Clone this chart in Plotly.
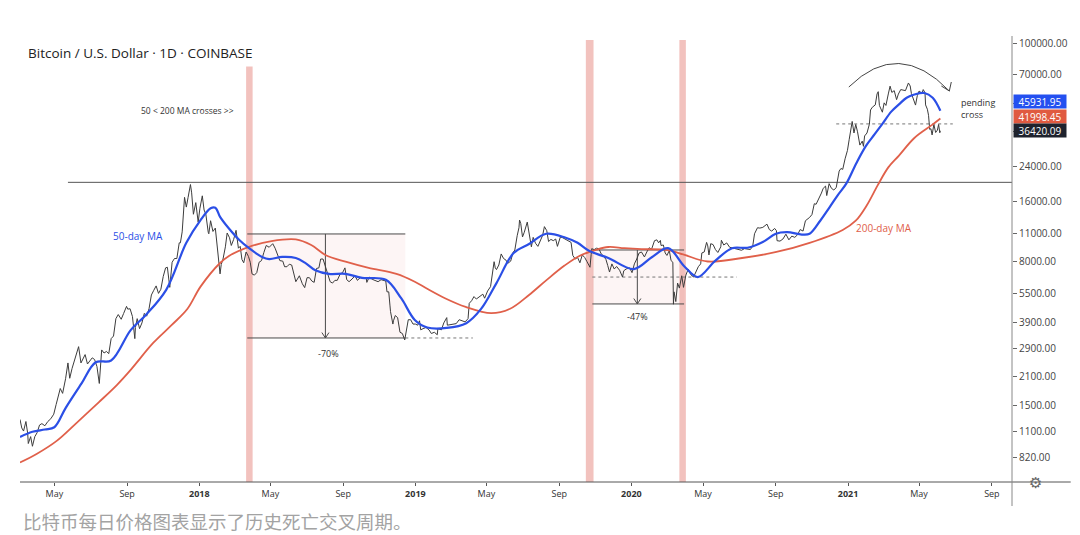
import plotly.graph_objects as go
import math
from datetime import date, timedelta

# ---------------- data ----------------
price_dates = [
 "2017-03-04","2017-03-07","2017-03-10","2017-03-14","2017-03-17","2017-03-18","2017-03-22","2017-03-25","2017-03-29",
 "2017-04-02","2017-04-06","2017-04-10","2017-04-15","2017-04-20","2017-04-25","2017-04-30","2017-05-04","2017-05-08",
 "2017-05-11","2017-05-15","2017-05-20","2017-05-24","2017-05-25","2017-05-27","2017-05-31","2017-06-04","2017-06-08",
 "2017-06-11","2017-06-15","2017-06-18","2017-06-22","2017-06-26","2017-06-30","2017-07-04","2017-07-08","2017-07-12",
 "2017-07-16","2017-07-20","2017-07-24","2017-07-28","2017-08-01","2017-08-05","2017-08-09","2017-08-13","2017-08-17",
 "2017-08-22","2017-08-26","2017-08-31","2017-09-02","2017-09-06","2017-09-10","2017-09-14","2017-09-15","2017-09-18",
 "2017-09-22","2017-09-26","2017-09-30","2017-10-04","2017-10-08","2017-10-12","2017-10-16","2017-10-20","2017-10-24",
 "2017-10-28","2017-11-01","2017-11-05","2017-11-08","2017-11-12","2017-11-16","2017-11-20","2017-11-24","2017-11-28",
 "2017-11-30","2017-12-03","2017-12-07","2017-12-10","2017-12-13","2017-12-17","2017-12-19","2017-12-22","2017-12-26",
 "2017-12-30",
 "2018-01-02","2018-01-06","2018-01-09","2018-01-12","2018-01-16","2018-01-17","2018-01-20","2018-01-24","2018-01-28",
 "2018-02-01","2018-02-05","2018-02-07","2018-02-10","2018-02-14","2018-02-17","2018-02-21","2018-02-24","2018-02-28",
 "2018-03-04","2018-03-08","2018-03-11","2018-03-14","2018-03-17","2018-03-21","2018-03-25","2018-03-28","2018-03-31",
 "2018-04-04","2018-04-08","2018-04-12","2018-04-16","2018-04-20","2018-04-24","2018-04-29","2018-05-05","2018-05-09",
 "2018-05-13","2018-05-17","2018-05-22","2018-05-25","2018-05-29","2018-06-02","2018-06-06","2018-06-10","2018-06-13",
 "2018-06-19","2018-06-24","2018-06-28","2018-07-02","2018-07-06","2018-07-10","2018-07-14","2018-07-18","2018-07-22",
 "2018-07-25","2018-07-29","2018-08-02","2018-08-06","2018-08-10","2018-08-14","2018-08-18","2018-08-22","2018-08-27",
 "2018-08-31","2018-09-04","2018-09-07","2018-09-11","2018-09-16","2018-09-21","2018-09-25","2018-09-30","2018-10-05",
 "2018-10-10","2018-10-11","2018-10-15","2018-10-20","2018-10-25","2018-10-30","2018-11-04","2018-11-08","2018-11-12",
 "2018-11-14","2018-11-17","2018-11-19","2018-11-20","2018-11-24","2018-11-25","2018-11-28","2018-12-02","2018-12-06",
 "2018-12-10","2018-12-14","2018-12-17","2018-12-20","2018-12-24","2018-12-28",
 "2019-01-01","2019-01-05","2019-01-08","2019-01-10","2019-01-14","2019-01-19","2019-01-24","2019-01-28","2019-02-02",
 "2019-02-07","2019-02-08","2019-02-14","2019-02-18","2019-02-23","2019-02-24","2019-03-01","2019-03-06","2019-03-11",
 "2019-03-16","2019-03-21","2019-03-26","2019-03-31","2019-04-02","2019-04-06","2019-04-10","2019-04-14","2019-04-20",
 "2019-04-25","2019-04-28","2019-05-03","2019-05-08","2019-05-11","2019-05-14","2019-05-16","2019-05-18","2019-05-22",
 "2019-05-26","2019-05-30","2019-06-03","2019-06-06","2019-06-11","2019-06-15","2019-06-18","2019-06-22","2019-06-25",
 "2019-06-26","2019-06-28","2019-07-01","2019-07-04","2019-07-09","2019-07-11","2019-07-14","2019-07-16","2019-07-19",
 "2019-07-23","2019-07-27","2019-07-31","2019-08-04","2019-08-07","2019-08-11","2019-08-14","2019-08-18","2019-08-22",
 "2019-08-26","2019-08-29","2019-09-03","2019-09-07","2019-09-12","2019-09-17","2019-09-21","2019-09-24","2019-09-28",
 "2019-10-02","2019-10-06","2019-10-10","2019-10-14","2019-10-18","2019-10-23","2019-10-25","2019-10-26","2019-10-30",
 "2019-11-03","2019-11-07","2019-11-11","2019-11-15","2019-11-19","2019-11-22","2019-11-25","2019-11-29","2019-12-03",
 "2019-12-07","2019-12-12","2019-12-17","2019-12-19","2019-12-23","2019-12-29",
 "2020-01-02","2020-01-06","2020-01-10","2020-01-14","2020-01-18","2020-01-23","2020-01-27","2020-01-31","2020-02-04",
 "2020-02-09","2020-02-13","2020-02-16","2020-02-19","2020-02-20","2020-02-24","2020-02-27","2020-03-01","2020-03-05",
 "2020-03-08","2020-03-11","2020-03-12","2020-03-13","2020-03-16","2020-03-19","2020-03-22","2020-03-26","2020-03-29",
 "2020-04-02","2020-04-06","2020-04-10","2020-04-15","2020-04-19","2020-04-23","2020-04-27","2020-04-29","2020-05-03",
 "2020-05-07","2020-05-09","2020-05-11","2020-05-14","2020-05-18","2020-05-22","2020-05-26","2020-05-31","2020-06-01",
 "2020-06-05","2020-06-10","2020-06-15","2020-06-20","2020-06-25","2020-06-30","2020-07-05","2020-07-10","2020-07-15",
 "2020-07-20","2020-07-24","2020-07-27","2020-08-01","2020-08-05","2020-08-10","2020-08-17","2020-08-21","2020-08-25",
 "2020-08-30","2020-09-02","2020-09-03","2020-09-08","2020-09-13","2020-09-18","2020-09-23","2020-09-28","2020-10-03",
 "2020-10-08","2020-10-12","2020-10-17","2020-10-21","2020-10-25","2020-10-28","2020-11-01","2020-11-05","2020-11-08",
 "2020-11-12","2020-11-17","2020-11-20","2020-11-24","2020-11-26","2020-11-30","2020-12-04","2020-12-08","2020-12-12",
 "2020-12-16","2020-12-17","2020-12-20","2020-12-23","2020-12-27","2020-12-31",
 "2021-01-03","2021-01-06","2021-01-08","2021-01-11","2021-01-14","2021-01-17","2021-01-21","2021-01-25","2021-01-27",
 "2021-01-29","2021-02-02","2021-02-06","2021-02-08","2021-02-11","2021-02-16","2021-02-19","2021-02-21","2021-02-23",
 "2021-02-26","2021-02-28","2021-03-03","2021-03-06","2021-03-10","2021-03-13","2021-03-16","2021-03-20","2021-03-24",
 "2021-03-27","2021-03-31","2021-04-04","2021-04-08","2021-04-13","2021-04-16","2021-04-18","2021-04-22","2021-04-25",
 "2021-04-28","2021-05-01","2021-05-03","2021-05-06","2021-05-08","2021-05-11","2021-05-12","2021-05-15","2021-05-17",
 "2021-05-19","2021-05-21","2021-05-23","2021-05-26","2021-05-29","2021-06-01","2021-06-03","2021-06-05","2021-06-06",
]
price_close = [
 1270,1150,1110,1240,1080,960,1040,930,1040,
 1090,1190,1210,1180,1240,1280,1350,1510,1700,
 1820,1720,2040,2450,2320,2050,2300,2520,2800,
 2960,2450,2560,2700,2420,2500,2600,2550,2350,
 1930,2850,2750,2800,2730,3250,3350,4100,4300,
 4070,4350,4730,4580,4600,4200,3250,3700,4100,
 3650,3900,4360,4220,4600,5400,5700,6000,5500,
 5770,6700,7400,7450,5900,7900,8250,8250,9900,
 9900,11250,16800,15000,16800,19500,17700,13800,15800,
 12600,
 14800,17100,14500,13800,11200,11000,12800,11300,11750,
 9100,6900,7700,8200,9450,11100,10500,9600,10300,
 11450,9300,9500,8150,7850,8900,8450,7900,6900,
 6800,7000,7900,8050,8850,9600,9400,9800,9300,
 8700,8050,8000,7500,7500,7720,7650,6750,6300,
 6750,6150,5880,6600,6600,6350,6250,7350,7400,
 8200,8200,7550,6950,6300,6200,6400,6400,6900,
 7000,7400,6450,6300,6500,6750,6400,6600,6600,
 6550,6250,6650,6480,6400,6300,6450,6400,6350,
 5600,5600,4800,4450,3850,4000,4250,4150,3500,
 3450,3200,3550,4050,4050,3850,
 3850,3800,4000,3600,3650,3700,3600,3450,3500,
 3400,3650,3600,3900,4150,3800,3820,3850,3870,
 4050,4000,3950,4100,4900,5050,5300,5150,5300,
 5450,5200,5650,5950,6950,7950,7400,7250,7650,
 8700,8250,8100,7800,8000,8850,9100,10750,11800,
 12900,12400,10600,11200,12600,11400,10200,9450,10550,
 9850,9500,10100,10800,11950,11400,10050,10300,10150,
 10350,9500,10600,10500,10300,10200,9950,8550,8200,
 8350,7850,8600,8350,7950,7450,8650,9250,9150,
 9300,9250,8700,8500,8150,7600,7050,7750,7300,
 7520,7200,6650,7150,7300,7400,
 7000,7750,8200,8800,8900,8400,8900,9350,9180,
 10150,10250,9900,10180,9600,9650,8800,8550,9050,
 8050,7900,4850,5600,5000,6200,5850,6750,5900,
 6800,7300,6850,6650,7100,7500,7750,8800,8900,
 9950,9550,8600,9800,9700,9150,8850,9450,10200,
 9650,9890,9400,9300,9250,9140,9080,9250,9200,
 9160,9550,11000,11800,11750,11850,12300,11550,11350,
 11700,11400,10150,10100,10350,10950,10250,10700,10550,
 10900,11550,11350,12800,13050,13300,13750,15600,15500,
 16300,17650,18650,19150,17150,19700,18650,18300,18800,
 21300,22800,23500,23250,26300,29000,
 33000,36800,40600,35500,39200,36000,30850,32300,30400,
 34300,35500,39300,46400,47900,49200,55900,57400,48900,
 46300,45200,50400,48900,55900,61200,56900,58100,52300,
 55800,58800,58200,58100,63500,61300,56200,51700,49100,
 54800,57800,57200,56400,58800,56700,49200,46800,43600,
 37000,37300,34700,39200,35700,36700,39200,35600,36420.09,
]

ma50_dates = [
 "2017-03-04","2017-03-25","2017-04-15","2017-05-01","2017-05-20","2017-06-16","2017-07-10","2017-08-05",
 "2017-09-07","2017-10-03","2017-11-06","2017-12-10","2018-01-03","2018-01-20","2018-01-28","2018-02-05",
 "2018-02-20","2018-03-10","2018-03-26","2018-04-17","2018-04-29","2018-05-21","2018-06-13","2018-06-30",
 "2018-07-16","2018-08-08","2018-09-05","2018-10-03","2018-11-12","2018-12-08","2018-12-31","2019-01-21",
 "2019-02-23","2019-03-28","2019-04-22","2019-05-18","2019-06-16","2019-07-12","2019-08-10","2019-09-12",
 "2019-10-02","2019-10-22","2019-11-23","2020-01-05","2020-02-05","2020-03-03","2020-03-31","2020-04-22",
 "2020-05-21","2020-06-19","2020-07-15","2020-08-10","2020-09-01","2020-09-20","2020-10-15","2020-10-28",
 "2020-11-15","2020-12-01","2020-12-15","2020-12-29","2021-01-15","2021-01-31","2021-02-15","2021-02-28",
 "2021-03-15","2021-03-28","2021-04-10","2021-04-23","2021-05-10","2021-05-24","2021-06-06",
]
ma50_values = [
 1035,1100,1130,1160,1450,1930,2470,2520,
 3590,4290,5730,9900,12900,14800,14900,13400,
 11700,10200,9300,8400,8200,8400,8300,7800,
 7200,6900,6900,6590,6440,5200,4040,3700,
 3680,3890,4590,6200,8790,9770,11000,10500,
 9900,9000,8300,7300,8400,9300,7500,6650,
 8000,9300,9350,10000,11000,11200,10900,11000,
 12800,15000,17300,19700,25000,30500,35000,39500,
 45500,49500,53500,55500,56500,53500,45931.95,
]

ma200_dates = [
 "2017-03-04","2017-04-01","2017-05-05","2017-06-05","2017-07-15","2017-08-15","2017-09-07","2017-10-15",
 "2017-11-15","2017-12-12","2018-01-03","2018-02-05","2018-02-20","2018-03-26","2018-05-03","2018-06-13",
 "2018-07-09","2018-08-02","2018-09-05","2018-10-14","2018-11-30","2018-12-31","2019-01-21","2019-02-20",
 "2019-03-27","2019-05-09","2019-06-10","2019-07-12","2019-08-10","2019-09-10","2019-10-05","2019-11-01",
 "2019-11-23","2019-12-20","2020-01-18","2020-03-03","2020-03-31","2020-05-09","2020-07-06","2020-09-02",
 "2020-10-28","2020-12-23","2021-01-14","2021-02-01","2021-02-20","2021-03-10","2021-03-28","2021-04-23",
 "2021-05-23","2021-06-06",
]
ma200_values = [
 770,850,990,1200,1550,1900,2260,3090,
 3800,4600,5950,7830,8500,9450,10100,10300,
 9650,8600,7950,7400,6900,6300,5800,5200,
 4700,4370,4600,5400,6400,7600,8500,9100,
 9430,9300,9200,9100,8600,7970,8300,8900,
 9900,11500,12800,15200,19300,23800,27300,33500,
 39000,41998.45,
]

ytick_values = [820, 1100, 1500, 2100, 2900, 3900, 5500, 8000, 11000, 16000, 24000, 36000, 50000, 70000, 100000]
xtick_dates = ["2017-05-01","2017-09-01","2018-01-01","2018-05-01","2018-09-01","2019-01-01","2019-05-01",
               "2019-09-01","2020-01-01","2020-05-01","2020-09-01","2021-01-01","2021-05-01","2021-09-01"]
xtick_labels = ["May","Sep","<b>2018</b>","May","Sep","<b>2019</b>","May",
                "Sep","<b>2020</b>","May","Sep","<b>2021</b>","May","Sep"]

# death-cross bands
cross_starts = ["2018-03-21", "2019-10-16", "2020-03-22"]
cross_ends   = ["2018-04-01", "2019-10-29", "2020-04-02"]

# drawdown boxes: start, end, top, bottom, arrow date, label, label price
box_starts  = ["2018-03-23", "2019-10-27"]
box_ends    = ["2018-12-15", "2020-03-30"]
box_tops    = [10975, 9110]
box_bottoms = [3275, 4865]
arrow_dates = ["2018-08-02", "2020-01-11"]
box_labels  = ["-70%", "-47%"]
label_dates = ["2018-08-07", "2020-01-11"]
label_prices = [2720, 4180]

# dotted support levels
dot_starts = ["2018-12-15", "2019-10-27", "2020-12-12"]
dot_ends   = ["2019-04-08", "2020-06-27", "2021-06-27"]
dot_levels = [3275, 6650, 39450]

ath_level = 20000
ath_start = "2017-05-24"

last_ma50 = 45931.95
last_ma200 = 41998.45
last_price = 36420.09

# ---------------- figure ----------------
# the page has an 8px body margin, so the figure is drawn 8px smaller and everything
# placed in page pixels is shifted by that offset
OFF = 8
W, H = 1080 - OFF, 535 - OFF
L, R, T, B = 20 - OFF, 63, 35 - OFF, 53
PW, PH = W - L - R, H - T - B

def px(xp):
    return (xp - OFF - L) / PW

def py(yp):
    return (H - B - (yp - OFF)) / PH

fig = go.Figure()

# box fills
for d0, d1, tp, bt in zip(box_starts, box_ends, box_tops, box_bottoms):
    fig.add_trace(go.Scatter(x=[d0, d1, d1, d0, d0], y=[tp, tp, bt, bt, tp], mode="lines",
                             fill="toself", fillcolor="rgba(235,160,160,0.10)",
                             line=dict(width=0), hoverinfo="skip"))

# box top/bottom edges + arrows
for d0, d1, tp, bt, ad in zip(box_starts, box_ends, box_tops, box_bottoms, arrow_dates):
    for lvl in (tp, bt):
        fig.add_trace(go.Scatter(x=[d0, d1], y=[lvl, lvl], mode="lines",
                                 line=dict(color="#4a4a4a", width=1), hoverinfo="skip"))
    fig.add_trace(go.Scatter(x=[ad, ad], y=[tp, bt], mode="lines",
                             line=dict(color="#4a4a4a", width=1), hoverinfo="skip"))
    a = date.fromisoformat(ad)
    fig.add_trace(go.Scatter(x=[(a - timedelta(days=6)).isoformat(), ad, (a + timedelta(days=6)).isoformat()],
                             y=[bt * 1.065, bt, bt * 1.065], mode="lines",
                             line=dict(color="#4a4a4a", width=1), hoverinfo="skip"))

# dotted levels
for d0, d1, lvl in zip(dot_starts, dot_ends, dot_levels):
    fig.add_trace(go.Scatter(x=[d0, d1], y=[lvl, lvl], mode="lines",
                             line=dict(color="#777777", width=1, dash="dot"), hoverinfo="skip"))

# ATH horizontal line
fig.add_trace(go.Scatter(x=[ath_start, "2021-10-05"], y=[ath_level, ath_level], mode="lines",
                         line=dict(color="#555555", width=1), hoverinfo="skip"))

# price and MAs
fig.add_trace(go.Scatter(x=price_dates, y=price_close, mode="lines",
                         line=dict(color="#3c3c3c", width=1), hoverinfo="skip"))
fig.add_trace(go.Scatter(x=ma200_dates, y=ma200_values, mode="lines", line_shape="spline",
                         line=dict(color="#e0604a", width=1.8), hoverinfo="skip"))
fig.add_trace(go.Scatter(x=ma50_dates, y=ma50_values, mode="lines", line_shape="spline",
                         line=dict(color="#2b4fe6", width=2.2), hoverinfo="skip"))

shapes = []
for d0, d1 in zip(cross_starts, cross_ends):
    shapes.append(dict(type="rect", xref="x", yref="paper", x0=d0, x1=d1, y0=0, y1=py(40),
                       fillcolor="rgba(226,120,110,0.45)", line=dict(width=0), layer="below"))

# axis lines
shapes.append(dict(type="line", xref="paper", yref="paper", x0=0, x1=px(1076), y0=0, y1=0,
                   line=dict(color="#555555", width=1)))
shapes.append(dict(type="line", xref="paper", yref="paper", x0=1, x1=1, y0=py(506), y1=py(36),
                   line=dict(color="#888888", width=1)))

# curved arrow over the 2021 top
p0, c, p2 = (853, 87), (903, 38), (954, 91)
shapes.append(dict(type="path", xref="paper", yref="paper",
                   path=f"M {px(p0[0])},{py(p0[1])} Q {px(c[0])},{py(c[1])} {px(p2[0])},{py(p2[1])}",
                   line=dict(color="#444444", width=1)))
shapes.append(dict(type="path", xref="paper", yref="paper",
                   path=f"M {px(946)},{py(86)} L {px(954)},{py(91)} L {px(956)},{py(82)}",
                   line=dict(color="#444444", width=1)))

annotations = []
annotations.append(dict(xref="paper", yref="paper", x=px(23), y=py(53), xanchor="left", yanchor="middle",
                        text="Bitcoin / U.S. Dollar · 1D · COINBASE", showarrow=False,
                        font=dict(family="Open Sans", size=13.5, color="#222222"),
                        bgcolor="white", borderpad=4))
annotations.append(dict(xref="x", yref="y", x="2017-12-12", y=math.log10(45900),
                        text="50 < 200 MA crosses >>", showarrow=False,
                        font=dict(family="Open Sans", size=8.5, color="#333333")))
annotations.append(dict(xref="x", yref="y", x="2017-09-19", y=math.log10(10700),
                        text="50-day MA", showarrow=False,
                        font=dict(family="Open Sans", size=10, color="#2b4fe6")))
annotations.append(dict(xref="x", yref="y", x="2021-03-02", y=math.log10(11800),
                        text="200-day MA", showarrow=False,
                        font=dict(family="Open Sans", size=10, color="#e0604a")))
annotations.append(dict(xref="x", yref="y", x="2021-07-08", y=math.log10(47000), xanchor="left",
                        text="pending<br>cross", showarrow=False, align="left",
                        font=dict(family="Open Sans", size=9, color="#333333")))
for ld, lp, lt in zip(label_dates, label_prices, box_labels):
    annotations.append(dict(xref="x", yref="y", x=ld, y=math.log10(lp), text=lt, showarrow=False,
                            font=dict(family="Open Sans", size=9, color="#333333")))

# last-value labels on the price scale
for val, col, shift in [(last_ma50, "#2450f0", 9), (last_ma200, "#e05a40", 2), (last_price, "#1e222d", 0)]:
    annotations.append(dict(xref="paper", yref="y", x=1, y=math.log10(val), yshift=shift, xshift=1,
                            xanchor="left", yanchor="middle", text=f"{val:.2f}", showarrow=False,
                            width=52, height=13, bgcolor=col, borderpad=0,
                            font=dict(family="Open Sans", size=10, color="white")))

annotations.append(dict(xref="paper", yref="paper", x=px(1049), y=py(494), text="⚙", showarrow=False,
                        font=dict(family="DejaVu Sans", size=15, color="#666666")))
annotations.append(dict(xref="paper", yref="paper", x=px(21), y=py(521), xanchor="left", yanchor="middle",
                        text="比特币每日价格图表显示了历史死亡交叉周期。", showarrow=False,
                        font=dict(family="Noto Sans CJK SC", size=18.5, color="#a3a3a3")))

fig.update_layout(
    width=W, height=H, margin=dict(l=L, r=R, t=T, b=B),
    paper_bgcolor="white", plot_bgcolor="white", showlegend=False, hovermode=False,
    shapes=shapes, annotations=annotations,
    xaxis=dict(type="date", range=["2017-03-04", "2021-10-05"], showgrid=False, zeroline=False,
               tickvals=xtick_dates, ticktext=xtick_labels, ticks="outside", ticklen=3,
               tickcolor="#555555", tickfont=dict(family="Open Sans", size=9, color="#333333"),
               showline=False),
    yaxis=dict(type="log", side="right", range=[2.788, 5.045], showgrid=False, zeroline=False,
               tickvals=ytick_values, ticktext=[f"{v:.2f}" for v in ytick_values],
               ticks="outside", ticklen=4, tickcolor="#666666",
               tickfont=dict(family="Open Sans", size=10, color="#444444"), showline=False),
)

fig.write_html("out.html")
